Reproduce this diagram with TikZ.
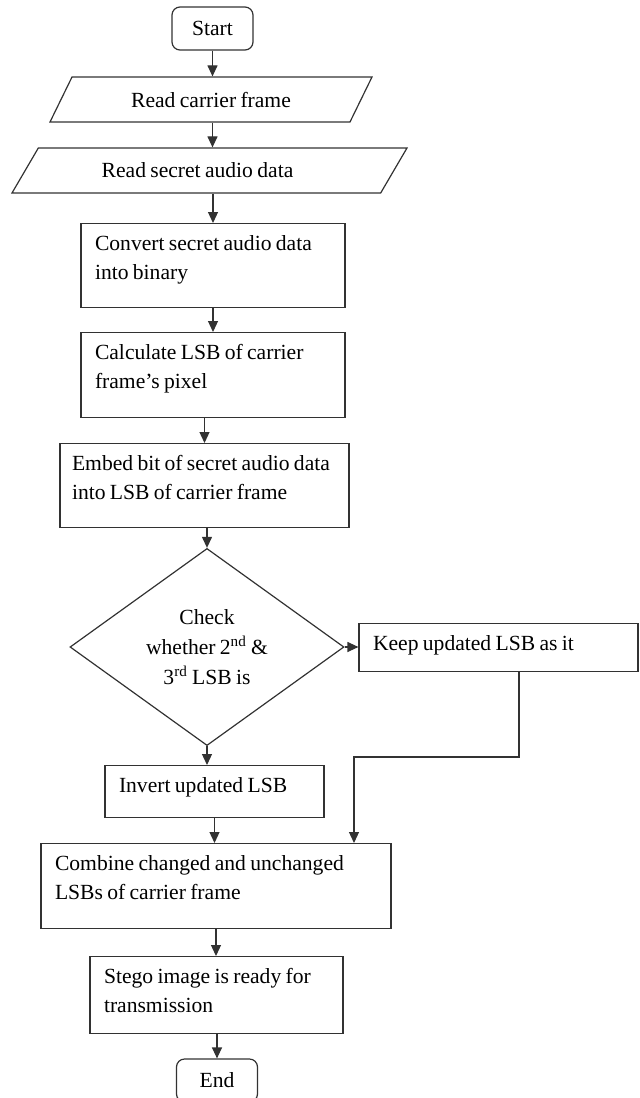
\documentclass[tikz,border=0pt]{standalone}
\usepackage{fontspec}
\setmainfont{Liberation Serif}
\usetikzlibrary{arrows.meta,shapes.geometric}
\definecolor{edgegray}{RGB}{50, 50, 50}
\newcommand\flowfont{\fontsize{10.8}{14.5}\selectfont}
\newcommand\chkfont{\fontsize{10.8}{15}\selectfont}
\newcommand\tightspace{\spaceskip=0.2em plus 0.05em\relax}
\tikzset{
    term/.style = {draw=edgegray, line width=0.6pt, rounded corners=4pt, minimum width=40.5pt, minimum height=21.5pt},
    io/.style   = {trapezium, trapezium stretches body, draw=edgegray, line width=0.6pt, inner sep=0pt},
    proc/.style = {draw=edgegray, line width=0.6pt, align=left, inner xsep=7pt, inner ysep=5.5pt, text height=8pt, anchor=north},
    flow/.style = {draw=edgegray, line width=0.6pt, -{Triangle[length=5.5pt, width=5pt]}}
}

\begin{document}
\begin{tikzpicture}[x=0.5pt, y=-0.5pt, every node/.style={font=\flowfont, execute at begin node=\tightspace}]
            % Frame
            \useasboundingbox (0, 0) rectangle (640, 1098);
            \clip             (0, 0) rectangle (640, 1098);
            % Start & inputs
            \node[term]                                              (start) at (212.5,   28.5) {Start};
            \node[io, trapezium left angle=35, trapezium right angle=145,
                  minimum width=161pt, minimum height=22.5pt]        (rdcar) at (211.0,   99.5) {Read carrier frame};
            \node[io, trapezium left angle=30, trapezium right angle=150,
                  minimum width=197.5pt, minimum height=22.5pt]      (rdsec) at (209.5,  170.5) {\hspace*{-12pt}Read secret audio data};
            % Processing
            \node[proc, text width=118pt,   text depth=23pt]         (conv)  at (213.0,  223.0) {Convert secret audio data\\into binary};
            \node[proc, text width=118pt,   text depth=23.5pt]       (calc)  at (213.0,  332.0) {Calculate LSB of carrier\\frame's pixel};
            \node[proc, inner xsep=6pt, text width=132.5pt, text depth=23pt]
                                                                     (embed) at (204.5,  443.0) {\mbox{Embed bit of secret audio data}\\into LSB of carrier frame};
            % Decision
            \node[diamond, draw=edgegray, line width=0.6pt, inner sep=0pt, align=center,
                  minimum width=137pt, minimum height=91.5pt,
                  font=\chkfont]                                     (chk)   at (207.0,  647.0) {Check\\whether 2\textsuperscript{nd} \&\\3\textsuperscript{rd} LSB is};
            \node[proc, text width=125.5pt, text depth=5pt]          (keep)  at (498.5,  623.0) {Keep updated LSB as it};
            \node[proc, text width=95.5pt,  text depth=7pt]          (inv)   at (214.5,  765.0) {Invert updated LSB};
            % Output
            \node[proc, text width=161pt,   text depth=23.5pt]       (comb)  at (216.0,  843.0) {Combine changed and unchanged\\LSBs of carrier frame};
            \node[proc, text width=112.5pt, text depth=19.5pt]       (stego) at (216.5,  956.0) {Stego image is ready for\\transmission};
            \node[term]                                              (stop)  at (217.0, 1080.5) {End};
            % Connectors
            \draw[flow] (start.south)              -- (start.south |- rdcar.north);
            \draw[flow] (start.south |- rdcar.south) -- (start.south |- rdsec.north);
            \draw[flow] (conv.north |- rdsec.south) -- (conv.north);
            \draw[flow] (conv.south)               -- (calc.north);
            \draw[flow] (embed.north |- calc.south) -- (embed.north);
            \draw[flow] (chk.north |- embed.south) -- (chk.north);
            \draw[flow] (chk.east)                 -- (keep.west |- chk.east);
            \draw[flow] (chk.south)                -- (chk.south |- inv.north);
            \draw[flow] (inv.south)                -- (inv.south |- comb.north);
            \coordinate (kdrop) at (519, 671);
            \coordinate (kturn) at (354, 757);
            \draw[flow] (kdrop) |- (kturn)         -- (kturn |- comb.north);
            \draw[flow] (comb.south)               -- (comb.south |- stego.north);
            \draw[flow] (stop.north |- stego.south) -- (stop.north);
        \end{tikzpicture}
\end{document}
